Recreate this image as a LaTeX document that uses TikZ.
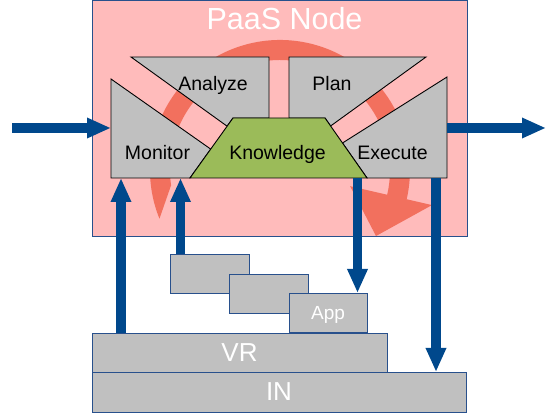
\documentclass[tikz,border=0pt]{standalone}
\usepackage{fontspec}
\setmainfont{Liberation Sans}
\usetikzlibrary{arrows.meta,calc}

\definecolor{nodepink}{RGB}{255,187,187}
\definecolor{loopred}{RGB}{242,112,94}
\definecolor{boxgray}{RGB}{192,192,192}
\definecolor{kngreen}{RGB}{155,187,89}
\definecolor{flowblue}{RGB}{0,72,140}
\definecolor{edgeblue}{RGB}{40,80,140}

\begin{document}
\begin{tikzpicture}[
    x=1pt, y=1pt,
    phase/.style={draw=black, fill=boxgray, line width=0.9pt, line join=miter},
    lbl/.style={anchor=base, font=\fontsize{19.5}{23}\selectfont},
    layer/.style={draw=edgeblue, fill=boxgray, line width=0.9pt, anchor=south west,
                  inner sep=0pt, outer sep=0pt, text=white, text depth=0pt},
    flow/.style={draw=flowblue, line width=9.5pt, -{Triangle[length=24pt, width=19pt]}}
]
\useasboundingbox (0,0) rectangle (551,417);

%% ── PaaS node frame ──────────────────────────────────────────────
\node[draw=edgeblue, fill=nodepink, line width=1pt, anchor=south west, inner sep=0pt,
      outer sep=0pt, minimum width=375, minimum height=236] (paas) at (92.5,180.5) {};
\node[anchor=base, text=white, font=\fontsize{30.5}{36}\selectfont] (title)
    at (284.5,387) {PaaS Node};

%% ── Control loop ─────────────────────────────────────────────────
\coordinate (loop) at (280,247);
\fill[loopred] ($(loop)+(202:130)$) arc[start angle=202, end angle=-13, radius=130]
    -- ($(loop)+(-13:156)$) -- (376,181) -- ($(loop)+(-13:72)$)
    -- ($(loop)+(-13:110)$) arc[start angle=-13, end angle=188, radius=110] -- cycle;

%% ── MAPE-K blocks ────────────────────────────────────────────────
\draw[phase] (131,360) -- (269,360) -- (269,299) -- (233,299) -- (227.1,290.8) -- cycle;
\node[lbl] (analyze) at (213,326) {Analyze};
\draw[phase] (289,360) -- (426,360) -- (330.6,291) -- (325,299) -- (289,299) -- cycle;
\node[lbl] (plan) at (332,326) {Plan};
\draw[phase] (111,338) -- (210.7,267.9) -- (190,239) -- (111,239) -- cycle;
\node[lbl] (monitor) at (157.5,257) {Monitor};
\draw[phase] (447,340) -- (447,239) -- (367,239) -- (342.5,274) -- cycle;
\node[lbl] (execute) at (392.5,257) {Execute};
\draw[phase, fill=kngreen] (190,239) -- (233,299) -- (325,299) -- (367,239) -- cycle;
\node[lbl] (knowledge) at (277.5,257.5) {Knowledge};

%% ── Managed stack ────────────────────────────────────────────────
\node[layer, minimum width=79, minimum height=39] (app1) at (170,124) {};
\node[layer, minimum width=79, minimum height=39] (app2) at (229,104) {};
\node[layer, minimum width=78, minimum height=39, font=\fontsize{19}{22}\selectfont]
    (app) at (289,85) {App};
\node[layer, minimum width=295, minimum height=39, font=\fontsize{26}{30}\selectfont]
    (vr) at (92,45) {VR};
\node[layer, minimum width=374, minimum height=40, font=\fontsize{26}{30}\selectfont]
    (in) at (92,5) {IN};

%% ── Arrows ───────────────────────────────────────────────────────
\coordinate (src)     at (12,289);
\coordinate (mon-in)  at (111,289);
\coordinate (ex-out)  at (447,289);
\coordinate (dst)     at (546,289);
\coordinate (sense1)  at (121,239);
\coordinate (sense2)  at (180.5,239);
\coordinate (act1)    at (357.5,239);
\coordinate (act2)    at (436,239);

\draw[flow] (src) -- (mon-in);
\draw[flow] (ex-out) -- (dst);
\draw[flow] (vr.north -| sense1) -- (sense1);
\draw[flow] (app1.north -| sense2) -- (sense2);
\draw[flow] (act1) -- (act1 |- app.north);
\draw[flow] (act2) -- (act2 |- in.north);

\end{tikzpicture}
\end{document}
